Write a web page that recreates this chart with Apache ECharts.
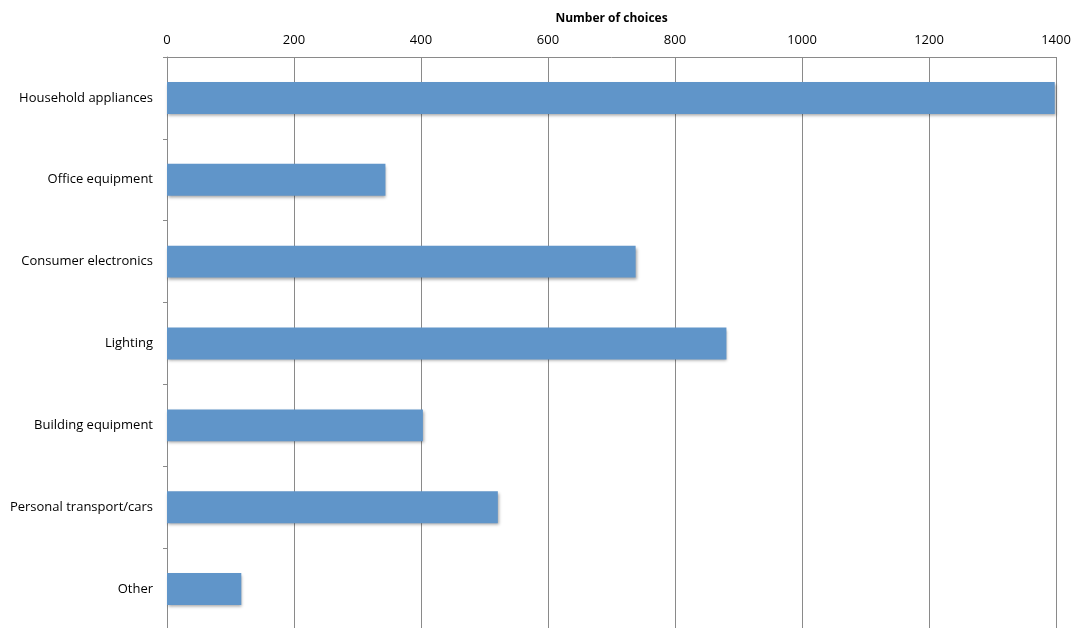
<!DOCTYPE html>
<html><head><meta charset="utf-8">
<script src="https://cdn.jsdelivr.net/npm/echarts@6/dist/echarts.min.js"></script>
<style>html,body{margin:0;padding:0;background:#fff}#c{width:1074px;height:628px}</style>
</head><body><div id="c"></div>
<script>
const categories = ["Household appliances","Office equipment","Consumer electronics","Lighting","Building equipment","Personal transport/cars","Other"];
const values = [1398, 344, 738, 881, 403, 521, 117];
const xTicks = {min: 0, max: 1400, interval: 200};
const axisTitle = "Number of choices";

const chart = echarts.init(document.getElementById('c'), null, {renderer: 'canvas'});
chart.setOption({
  animation: false,
  backgroundColor: '#fff',
  grid: {left: 167, width: 889, top: 57, height: 573, containLabel: false, outerBoundsMode: 'none'},
  xAxis: {
    type: 'value', position: 'top',
    min: xTicks.min, max: xTicks.max, interval: xTicks.interval,
    name: axisTitle, nameLocation: 'middle', nameGap: 32,
    nameTextStyle: {fontFamily: 'Open Sans', fontWeight: 'bold', fontSize: 12, color: '#000'},
    axisLine: {show: true, lineStyle: {color: '#8a8a8a', width: 1}},
    axisTick: {show: false},
    axisLabel: {fontFamily: 'Open Sans', fontSize: 13, color: '#000', margin: 10, formatter: v => String(v)},
    splitLine: {show: true, lineStyle: {color: '#8a8a8a', width: 1}}
  },
  yAxis: {
    type: 'category', data: categories, inverse: true,
    axisLine: {show: true, lineStyle: {color: '#8a8a8a', width: 1}},
    axisTick: {show: true, length: 4, lineStyle: {color: '#8a8a8a'}},
    axisLabel: {fontFamily: 'Open Sans', fontSize: 13, color: '#000', margin: 14},
    splitLine: {show: false}
  },
  series: [{
    type: 'bar', data: values, barCategoryGap: '61%',
    itemStyle: {color: '#6095c9', shadowColor: 'rgba(0,0,0,0.35)', shadowBlur: 3, shadowOffsetX: 1, shadowOffsetY: 2}
  }]
});
</script></body></html>
